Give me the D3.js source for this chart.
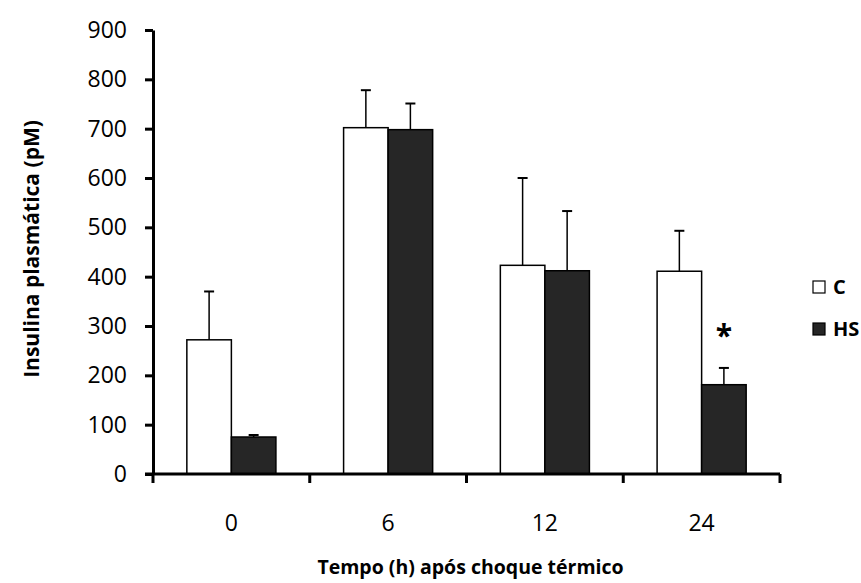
<!DOCTYPE html>
<html>
<head>
<meta charset="utf-8">
<script src="https://cdn.jsdelivr.net/npm/d3@7"></script>
<style>
  body { margin: 0; background: #fff; }
  text { font-family: "Open Sans", sans-serif; fill: #000; }
</style>
</head>
<body>
<div id="chart"></div>
<script>
// Data
const times = ["0", "6", "12", "24"];
const seriesNames = ["C", "HS"];
const meanC = [272, 702, 423, 411];
const meanHS = [75, 698, 412, 181];
const errC = [98, 76, 177, 82];
const errHS = [4, 53, 121, 34];
const yTicks = [0, 100, 200, 300, 400, 500, 600, 700, 800, 900];
const significant = [false, false, false, true]; // HS vs C

const width = 861, height = 583;
const margin = { top: 30, right: 81, bottom: 109, left: 153 };

const svg = d3.select("#chart").append("svg")
  .attr("width", width)
  .attr("height", height);

const x = d3.scaleBand()
  .domain(times)
  .range([margin.left, width - margin.right])
  .paddingInner(0)
  .paddingOuter(0);

// two bars per group, gap between groups ~1.52 bar widths
const sub = d3.scaleBand()
  .domain(seriesNames)
  .range([0, x.bandwidth()])
  .paddingOuter(0.76)
  .paddingInner(0);

const y = d3.scaleLinear()
  .domain([0, 900])
  .range([height - margin.bottom, margin.top]);

const colors = { C: "#ffffff", HS: "#262626" };

const rows = times.map((t, i) => ({
  t,
  vals: [
    { key: "C", v: meanC[i], e: errC[i] },
    { key: "HS", v: meanHS[i], e: errHS[i] }
  ]
}));

// Bars
const groups = svg.selectAll(".grp")
  .data(rows)
  .enter().append("g")
  .attr("transform", d => `translate(${x(d.t)},0)`);

groups.selectAll("rect")
  .data(d => d.vals)
  .enter().append("rect")
  .attr("x", d => sub(d.key))
  .attr("width", sub.bandwidth())
  .attr("y", d => y(d.v))
  .attr("height", d => y(0) - y(d.v))
  .attr("fill", d => colors[d.key])
  .attr("stroke", "#000")
  .attr("stroke-width", 1.5);

// Error bars (upper only)
groups.selectAll(".err")
  .data(d => d.vals)
  .enter().append("g")
  .each(function(d) {
    const cx = sub(d.key) + sub.bandwidth() / 2;
    const g = d3.select(this);
    g.append("line")
      .attr("x1", cx).attr("x2", cx)
      .attr("y1", y(d.v)).attr("y2", y(d.v + d.e))
      .attr("stroke", "#000").attr("stroke-width", 1.5);
    g.append("line")
      .attr("x1", cx - 5).attr("x2", cx + 5)
      .attr("y1", y(d.v + d.e)).attr("y2", y(d.v + d.e))
      .attr("stroke", "#000").attr("stroke-width", 2);
  });

// Significance asterisk
groups.filter((d, i) => significant[i])
  .append("text")
  .attr("x", sub("HS") + sub.bandwidth() / 2)
  .attr("y", d => y(d.vals[1].v + d.vals[1].e) - 22)
  .attr("text-anchor", "middle")
  .style("font-size", "30px")
  .style("font-weight", "bold")
  .text("*");

// Y axis
const yAxis = d3.axisLeft(y)
  .tickValues(yTicks)
  .tickSize(8)
  .tickSizeOuter(0)
  .tickPadding(18);

const gy = svg.append("g")
  .attr("transform", `translate(${margin.left},0)`)
  .call(yAxis);
gy.select(".domain").attr("stroke-width", 3);
gy.selectAll(".tick line").attr("stroke-width", 3);
gy.selectAll(".tick text").style("font-size", "23px").style("font-family", "Open Sans");

// X axis: ticks between categories
const xEdges = times.map(t => x(t)).concat([x(times[times.length - 1]) + x.bandwidth()]);
const gx = svg.append("g").attr("transform", `translate(0,${y(0)})`);
gx.append("line")
  .attr("x1", margin.left - 8).attr("x2", width - margin.right)
  .attr("stroke", "#000").attr("stroke-width", 3);
gx.selectAll(".xt")
  .data(xEdges)
  .enter().append("line")
  .attr("x1", d => d).attr("x2", d => d)
  .attr("y1", 0).attr("y2", 9)
  .attr("stroke", "#000").attr("stroke-width", 3);
gx.selectAll(".xl")
  .data(times)
  .enter().append("text")
  .attr("x", d => x(d) + x.bandwidth() / 2)
  .attr("y", 57)
  .attr("text-anchor", "middle")
  .style("font-size", "23px")
  .text(d => d);

// Axis titles
svg.append("text")
  .attr("x", (margin.left + width - margin.right) / 2 + 4)
  .attr("y", 574)
  .attr("text-anchor", "middle")
  .style("font-size", "19.5px")
  .style("font-weight", "bold")
  .text("Tempo (h) após choque térmico");

svg.append("text")
  .attr("transform", `translate(39,${(y(0) + y(900)) / 2 - 3}) rotate(-90)`)
  .attr("text-anchor", "middle")
  .style("font-size", "21px")
  .style("font-weight", "bold")
  .text("Insulina plasmática (pM)");

// Legend
const legend = svg.append("g").attr("transform", "translate(813,281)");
const li = legend.selectAll(".li")
  .data(seriesNames)
  .enter().append("g")
  .attr("transform", (d, i) => `translate(0,${i * 42})`);
li.append("rect")
  .attr("width", 12).attr("height", 12)
  .attr("fill", d => colors[d])
  .attr("stroke", "#000").attr("stroke-width", 1.2);
li.append("text")
  .attr("x", 20).attr("y", 13)
  .style("font-size", "20px")
  .style("font-weight", "bold")
  .text(d => d);
</script>
</body>
</html>
